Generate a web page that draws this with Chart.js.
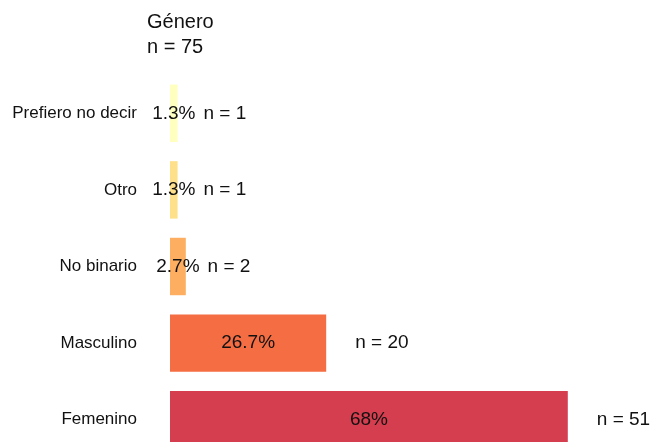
<!DOCTYPE html>
<html><head><meta charset="utf-8">
<script src="https://cdn.jsdelivr.net/npm/chart.js@4/dist/chart.umd.min.js"></script>
<style>html,body{margin:0;padding:0;overflow:hidden;background:#fff}#wrap{width:663px;height:458px;position:relative}</style>
</head><body><div id="wrap"><canvas id="c" width="663" height="458"></canvas></div>
<script>
const categories = ['Prefiero no decir', 'Otro', 'No binario', 'Masculino', 'Femenino'];
const percentages = [1.3, 1.3, 2.7, 26.7, 68];
const counts = [1, 1, 2, 20, 51];
const barColors = ['#ffffbf', '#fee08b', '#fdae61', '#f46d43', '#d53e4f'];
const titleLines = ['Género', 'n = 75'];

const FONT = '"Liberation Sans", Arial, Helvetica, sans-serif';

const titlePlugin = {
  id: 'leftTitle',
  afterDraw(chart) {
    const ctx = chart.ctx;
    ctx.save();
    ctx.font = '20px ' + FONT;
    ctx.fillStyle = '#111';
    ctx.textAlign = 'left';
    ctx.textBaseline = 'alphabetic';
    const x = chart.chartArea.left - 23;
    titleLines.forEach((t, i) => ctx.fillText(t, x, 28 + i * 25));
    ctx.restore();
  }
};

const labelPlugin = {
  id: 'barLabels',
  afterDatasetsDraw(chart) {
    const ctx = chart.ctx;
    const meta = chart.getDatasetMeta(0);
    ctx.save();
    ctx.font = '19px ' + FONT;
    ctx.fillStyle = '#111';
    ctx.textBaseline = 'middle';
    meta.data.forEach((bar, i) => {
      const start = bar.base, end = bar.x;
      const cx = (start + end) / 2;
      const pct = percentages[i] + '%';
      ctx.textAlign = 'center';
      ctx.fillText(pct, cx, bar.y);
      const pw = ctx.measureText(pct).width;
      const len = end - start;
      const nx = pw > len ? cx + pw / 2 + 8 : end + 29;
      ctx.textAlign = 'left';
      ctx.fillText('n = ' + counts[i], nx, bar.y);
    });
    ctx.restore();
  }
};

new Chart(document.getElementById('c'), {
  type: 'bar',
  data: {
    labels: categories,
    datasets: [{
      data: percentages,
      backgroundColor: barColors,
      borderWidth: 0,
      barPercentage: 0.75,
      categoryPercentage: 1.0
    }]
  },
  options: {
    indexAxis: 'y',
    responsive: false,
    animation: false,
    layout: { padding: { left: 0, right: 25, top: 75, bottom: 0 } },
    plugins: {
      legend: { display: false },
      tooltip: { enabled: false },
      title: { display: false }
    },
    scales: {
      x: { display: false, min: 0, max: 80 },
      y: {
        afterFit(scale) { scale.width = 170; scale.paddingTop = 0; scale.paddingBottom = 0; },
        grid: { display: false, drawTicks: false },
        border: { display: false },
        ticks: { padding: 33, color: '#111', font: { size: 17, family: FONT } }
      }
    }
  },
  plugins: [labelPlugin, titlePlugin]
});
</script>
</body></html>
